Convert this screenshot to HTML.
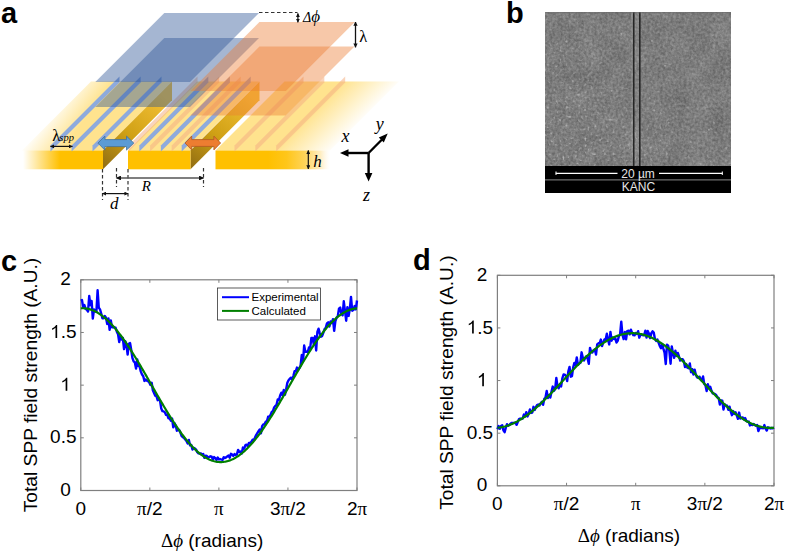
<!DOCTYPE html>
<html><head><meta charset="utf-8"><style>
html,body{margin:0;padding:0;background:#fff;}
body{width:787px;height:551px;overflow:hidden;position:relative;}
svg{position:absolute;left:0;top:0;}
text{font-family:"Liberation Sans",sans-serif;fill:#000;}
.tl{font-size:19px;}
.al{font-size:19px;}
.yl{font-size:19.2px;}
.lg{font-size:11.5px;}
.pl{font-size:29px;font-weight:bold;}
.sem{font-size:12px;fill:#e6e6e6;}
.it{font-family:"Liberation Serif",serif;font-style:italic;}
.sf{font-family:"Liberation Serif",serif;font-style:normal;}
</style></head><body>
<svg width="787" height="551" viewBox="0 0 787 551">
<defs>
<linearGradient id="fadeL" gradientUnits="userSpaceOnUse" x1="22" y1="150.5" x2="47.9" y2="169.6"><stop offset="0" stop-color="#FFE38E" stop-opacity="0.05"/><stop offset="1" stop-color="#FFE38E"/></linearGradient>
<linearGradient id="fadeR" gradientUnits="userSpaceOnUse" x1="274" y1="0" x2="334" y2="0"><stop offset="0" stop-color="#FFE38E"/><stop offset="1" stop-color="#FFE38E" stop-opacity="0"/></linearGradient>
<linearGradient id="ffL" gradientUnits="userSpaceOnUse" x1="23" y1="0" x2="60" y2="0"><stop offset="0" stop-color="#FFC000" stop-opacity="0"/><stop offset="1" stop-color="#FFC000"/></linearGradient>
<linearGradient id="ffR" gradientUnits="userSpaceOnUse" x1="268" y1="0" x2="330" y2="0"><stop offset="0" stop-color="#FFC000"/><stop offset="0.3" stop-color="#FFC61A"/><stop offset="0.6" stop-color="#FFD45A"/><stop offset="0.85" stop-color="#FFEBB8" stop-opacity="0.85"/><stop offset="1" stop-color="#FFF6E0" stop-opacity="0"/></linearGradient>
<linearGradient id="wall" x1="0" y1="1" x2="0.6" y2="0"><stop offset="0" stop-color="#8F6C12"/><stop offset="0.45" stop-color="#CFA015"/><stop offset="1" stop-color="#F4C035"/></linearGradient>
<marker id="ah" viewBox="0 0 10 10" refX="9" refY="5" markerWidth="3.3" markerHeight="3.3" orient="auto-start-reverse"><path d="M0,0 L10,5 L0,10 z" fill="#111"/></marker>
</defs>
<g transform="matrix(1,0,-1,1,150.5,0)">
<rect x="128" y="81.5" width="62" height="69" fill="#FFE38E"/>
<rect x="215.5" y="81.5" width="114.5" height="69" fill="url(#fadeR)"/>
</g>
<polygon points="22,150.5 103,150.5 172,81.5 91,81.5" fill="url(#fadeL)"/>
<polygon points="103,150.5 172,81.5 172,100.30000000000001 103,169.3" fill="url(#wall)"/>
<polygon points="190.5,150.5 259.5,81.5 259.5,100.30000000000001 190.5,169.3" fill="url(#wall)"/>
<rect x="21" y="150.5" width="82" height="18.80000000000001" fill="url(#ffL)"/>
<rect x="128" y="150.5" width="62.5" height="18.80000000000001" fill="#FFC000"/>
<rect x="215.5" y="150.5" width="114.5" height="18.80000000000001" fill="url(#ffR)"/>
<polygon points="50.5,151.5 50.5,145.5 119.5,76.5 119.5,82.5" fill="#88A7E0" fill-opacity="0.95"/>
<polygon points="71.6,151.5 71.6,145.5 140.6,76.5 140.6,82.5" fill="#88A7E0" fill-opacity="0.95"/>
<polygon points="92.5,151.5 92.5,145.5 161.5,76.5 161.5,82.5" fill="#88A7E0" fill-opacity="0.95"/>
<polygon points="139.3,151.5 139.3,145.5 208.3,76.5 208.3,82.5" fill="#88A7E0" fill-opacity="0.95"/>
<polygon points="160.9,151.5 160.9,145.5 229.9,76.5 229.9,82.5" fill="#88A7E0" fill-opacity="0.95"/>
<polygon points="181.7,151.5 181.7,145.5 250.7,76.5 250.7,82.5" fill="#88A7E0" fill-opacity="0.95"/>
<polygon points="128.5,151.5 128.5,145.5 197.5,76.5 197.5,82.5" fill="#F4B183" fill-opacity="0.55"/>
<polygon points="150.1,151.5 150.1,145.5 219.1,76.5 219.1,82.5" fill="#F4B183" fill-opacity="0.55"/>
<polygon points="171.7,151.5 171.7,145.5 240.7,76.5 240.7,82.5" fill="#F4B183" fill-opacity="0.55"/>
<polygon points="234.5,151.5 234.5,145.5 303.5,76.5 303.5,82.5" fill="#F4B183" fill-opacity="0.55"/>
<polygon points="255.3,151.5 255.3,145.5 324.3,76.5 324.3,82.5" fill="#F4B183" fill-opacity="0.55"/>
<polygon points="276.2,151.5 276.2,145.5 345.2,76.5 345.2,82.5" fill="#F4B183" fill-opacity="0.55"/>
<polygon points="164.3,13 259,13 190,82 95.30000000000001,82" fill="#2F5597" fill-opacity="0.43"/>
<polygon points="164.3,38 259,38 190,107 95.30000000000001,107" fill="#2F5597" fill-opacity="0.43"/>
<polygon points="259.4,22 354.8,22 285.8,91 190.39999999999998,91" fill="#ED7D31" fill-opacity="0.42"/>
<polygon points="259.4,46.5 354.5,46.5 285.5,115.5 190.39999999999998,115.5" fill="#ED7D31" fill-opacity="0.42"/>
<polygon points="97.9,143.1 104.9,136.1 104.9,139.6 126.5,139.6 126.5,136.1 133.8,143.1 126.5,150.1 126.5,146.6 104.9,146.6 104.9,150.1" fill="#5B9BD5" stroke="#41719C" stroke-width="0.8"/>
<polygon points="185.0,143.0 191.7,136.1 191.7,139.6 213.9,139.6 213.9,136.1 220.6,143.0 213.9,149.9 213.9,146.4 191.7,146.4 191.7,149.9" fill="#ED7D31" stroke="#AE5A21" stroke-width="0.8"/>
<line x1="259" y1="12.5" x2="297.5" y2="12.5" stroke="#333" stroke-width="1.2" stroke-dasharray="3.5,2.5" fill="none"/>
<line x1="102.5" y1="169" x2="102.5" y2="200" stroke="#333" stroke-width="1.2" stroke-dasharray="3.5,2.5" fill="none"/>
<line x1="116.5" y1="168" x2="116.5" y2="187" stroke="#333" stroke-width="1.2" stroke-dasharray="3.5,2.5" fill="none"/>
<line x1="128" y1="169" x2="128" y2="200" stroke="#333" stroke-width="1.2" stroke-dasharray="3.5,2.5" fill="none"/>
<line x1="203.5" y1="168" x2="203.5" y2="187" stroke="#333" stroke-width="1.2" stroke-dasharray="3.5,2.5" fill="none"/>
<line x1="116.5" y1="178" x2="203.5" y2="178" stroke="#555" stroke-width="1.5" marker-start="url(#ah)" marker-end="url(#ah)"/>
<line x1="102.5" y1="193.6" x2="128" y2="193.6" stroke="#111" stroke-width="1.2" marker-start="url(#ah)" marker-end="url(#ah)"/>
<line x1="50.5" y1="146.4" x2="72.4" y2="146.4" stroke="#111" stroke-width="1.2" marker-start="url(#ah)" marker-end="url(#ah)"/>
<line x1="297.9" y1="13.5" x2="297.9" y2="22.3" stroke="#111" stroke-width="1.2" marker-start="url(#ah)" marker-end="url(#ah)"/>
<line x1="355.5" y1="22" x2="355.5" y2="47.3" stroke="#111" stroke-width="1.3" marker-start="url(#ah)" marker-end="url(#ah)"/>
<line x1="308.3" y1="150.4" x2="308.3" y2="168.9" stroke="#111" stroke-width="1.2" marker-start="url(#ah)" marker-end="url(#ah)"/>
<line x1="368.6" y1="153" x2="346" y2="153" stroke="#000" stroke-width="2.4" fill="none"/><polygon points="340,153 348.5,149.2 348.5,156.8" fill="#000"/>
<line x1="368.6" y1="153" x2="368.6" y2="175" stroke="#000" stroke-width="2.4" fill="none"/><polygon points="368.6,181.6 364.8,173 372.40000000000003,173" fill="#000"/>
<line x1="368.6" y1="153" x2="383.5" y2="138" stroke="#000" stroke-width="2.4" fill="none"/><polygon points="387.7,133.6 378.8,137.6 383.8,142.6" fill="#000"/>
<text x="341.5" y="141.5" font-size="18" class="it" fill="#111">x</text>
<text x="375.8" y="129.5" font-size="18" class="it" fill="#111">y</text>
<text x="363" y="200.5" font-size="18" class="it" fill="#111">z</text>
<text x="313.3" y="166.5" font-size="17" class="it" fill="#111">h</text>
<text x="141.8" y="191.1" font-size="15" class="it" fill="#111">R</text>
<text x="110" y="208.7" font-size="17" class="it" fill="#111">d</text>
<text x="359.3" y="42.3" font-size="16.5" class="it" fill="#111"><tspan class="sf">λ</tspan></text>
<text x="303" y="22" font-size="17" class="it" fill="#111"><tspan font-size="14">Δ</tspan>ϕ</text>
<text x="52.3" y="140.6" font-size="16.5" class="sf" fill="#111">λ</text>
<text x="59.3" y="140.8" font-size="10.5" class="it" fill="#111">spp</text>
<rect x="80.8" y="279.8" width="276.2" height="210.7" fill="none" stroke="#7f7f7f" stroke-width="1.2"/>
<line x1="80.8" y1="490.5" x2="80.8" y2="487.5" stroke="#7f7f7f" stroke-width="1"/>
<line x1="80.8" y1="279.8" x2="80.8" y2="282.8" stroke="#7f7f7f" stroke-width="1"/>
<line x1="149.85" y1="490.5" x2="149.85" y2="487.5" stroke="#7f7f7f" stroke-width="1"/>
<line x1="149.85" y1="279.8" x2="149.85" y2="282.8" stroke="#7f7f7f" stroke-width="1"/>
<line x1="218.89999999999998" y1="490.5" x2="218.89999999999998" y2="487.5" stroke="#7f7f7f" stroke-width="1"/>
<line x1="218.89999999999998" y1="279.8" x2="218.89999999999998" y2="282.8" stroke="#7f7f7f" stroke-width="1"/>
<line x1="287.95" y1="490.5" x2="287.95" y2="487.5" stroke="#7f7f7f" stroke-width="1"/>
<line x1="287.95" y1="279.8" x2="287.95" y2="282.8" stroke="#7f7f7f" stroke-width="1"/>
<line x1="357.0" y1="490.5" x2="357.0" y2="487.5" stroke="#7f7f7f" stroke-width="1"/>
<line x1="357.0" y1="279.8" x2="357.0" y2="282.8" stroke="#7f7f7f" stroke-width="1"/>
<line x1="80.8" y1="490.5" x2="83.8" y2="490.5" stroke="#7f7f7f" stroke-width="1"/>
<line x1="357" y1="490.5" x2="354" y2="490.5" stroke="#7f7f7f" stroke-width="1"/>
<line x1="80.8" y1="437.825" x2="83.8" y2="437.825" stroke="#7f7f7f" stroke-width="1"/>
<line x1="357" y1="437.825" x2="354" y2="437.825" stroke="#7f7f7f" stroke-width="1"/>
<line x1="80.8" y1="385.15" x2="83.8" y2="385.15" stroke="#7f7f7f" stroke-width="1"/>
<line x1="357" y1="385.15" x2="354" y2="385.15" stroke="#7f7f7f" stroke-width="1"/>
<line x1="80.8" y1="332.475" x2="83.8" y2="332.475" stroke="#7f7f7f" stroke-width="1"/>
<line x1="357" y1="332.475" x2="354" y2="332.475" stroke="#7f7f7f" stroke-width="1"/>
<line x1="80.8" y1="279.8" x2="83.8" y2="279.8" stroke="#7f7f7f" stroke-width="1"/>
<line x1="357" y1="279.8" x2="354" y2="279.8" stroke="#7f7f7f" stroke-width="1"/>
<polyline points="80.80,300.72 82.00,300.08 83.20,307.37 84.40,305.12 85.60,308.75 86.80,309.70 88.01,311.55 89.21,296.00 90.41,305.18 91.61,300.90 92.81,318.63 94.01,309.43 95.21,311.45 96.41,311.32 97.61,290.26 98.81,307.77 100.01,309.41 101.21,313.49 102.42,318.22 103.62,318.23 104.82,316.06 106.02,317.68 107.22,324.02 108.42,318.43 109.62,329.86 110.82,320.45 112.02,327.35 113.22,327.41 114.42,327.51 115.63,327.74 116.83,331.68 118.03,334.16 119.23,342.10 120.43,336.31 121.63,339.46 122.83,337.85 124.03,349.17 125.23,341.14 126.43,344.30 127.63,354.58 128.83,343.77 130.04,343.06 131.24,350.05 132.44,358.13 133.64,361.29 134.84,362.42 136.04,368.59 137.24,359.49 138.44,366.12 139.64,366.38 140.84,371.64 142.04,374.50 143.25,376.19 144.45,380.92 145.65,379.50 146.85,380.75 148.05,381.22 149.25,382.54 150.45,384.88 151.65,382.71 152.85,390.31 154.05,392.98 155.25,395.71 156.45,396.10 157.66,400.17 158.86,399.27 160.06,400.73 161.26,408.61 162.46,411.16 163.66,411.38 164.86,412.32 166.06,414.88 167.26,414.87 168.46,418.40 169.66,418.27 170.87,420.68 172.07,418.46 173.27,427.37 174.47,423.17 175.67,425.47 176.87,430.74 178.07,429.62 179.27,430.16 180.47,432.81 181.67,436.14 182.87,437.19 184.07,437.89 185.28,439.45 186.48,440.94 187.68,443.43 188.88,439.96 190.08,445.40 191.28,444.98 192.48,449.52 193.68,447.91 194.88,448.51 196.08,449.54 197.28,452.15 198.49,453.28 199.69,453.52 200.89,453.40 202.09,454.67 203.29,454.05 204.49,457.83 205.69,455.80 206.89,456.02 208.09,457.26 209.29,456.83 210.49,456.29 211.69,456.69 212.90,459.46 214.10,457.09 215.30,458.09 216.50,459.86 217.70,457.47 218.90,459.45 220.10,459.02 221.30,459.50 222.50,460.00 223.70,457.22 224.90,458.09 226.11,457.36 227.31,456.27 228.51,455.61 229.71,457.74 230.91,453.81 232.11,454.50 233.31,455.90 234.51,454.09 235.71,455.00 236.91,454.22 238.11,449.93 239.31,452.02 240.52,451.54 241.72,453.39 242.92,447.59 244.12,448.77 245.32,445.37 246.52,444.64 247.72,446.06 248.92,442.92 250.12,443.07 251.32,441.77 252.52,439.76 253.73,440.11 254.93,437.80 256.13,435.05 257.33,433.16 258.53,431.23 259.73,429.49 260.93,433.32 262.13,426.18 263.33,424.34 264.53,424.13 265.73,421.71 266.93,421.26 268.14,416.75 269.34,416.46 270.54,414.99 271.74,411.86 272.94,411.01 274.14,407.46 275.34,405.87 276.54,404.87 277.74,399.39 278.94,400.04 280.14,395.55 281.35,392.70 282.55,395.16 283.75,389.98 284.95,394.75 286.15,389.28 287.35,382.71 288.55,380.22 289.75,378.89 290.95,377.67 292.15,379.39 293.35,376.12 294.55,371.25 295.76,371.41 296.96,367.59 298.16,369.68 299.36,368.12 300.56,365.69 301.76,355.08 302.96,361.95 304.16,345.54 305.36,351.88 306.56,351.68 307.76,352.15 308.97,347.53 310.17,348.44 311.37,337.88 312.57,338.06 313.77,344.28 314.97,336.33 316.17,350.48 317.37,331.99 318.57,328.75 319.77,333.10 320.97,336.67 322.17,335.89 323.38,332.57 324.58,329.17 325.78,327.86 326.98,323.31 328.18,322.31 329.38,326.52 330.58,321.43 331.78,323.02 332.98,319.14 334.18,330.80 335.38,321.12 336.59,317.60 337.79,316.28 338.99,308.62 340.19,307.54 341.39,313.91 342.59,315.34 343.79,301.30 344.99,311.13 346.19,320.69 347.39,307.19 348.59,315.92 349.79,309.25 351.00,296.95 352.20,310.69 353.40,310.03 354.60,306.09 355.80,309.41 357.00,300.50" fill="none" stroke="#0000ff" stroke-width="2.4" stroke-linejoin="round"/>
<polyline points="80.80,308.31 81.72,308.26 82.64,308.24 83.56,308.26 84.48,308.32 85.40,308.41 86.32,308.53 87.24,308.68 88.17,308.87 89.09,309.09 90.01,309.35 90.93,309.63 91.85,309.96 92.77,310.31 93.69,310.70 94.61,311.12 95.53,311.57 96.45,312.05 97.37,312.57 98.29,313.12 99.21,313.70 100.13,314.31 101.05,314.95 101.98,315.63 102.90,316.33 103.82,317.06 104.74,317.83 105.66,318.62 106.58,319.44 107.50,320.29 108.42,321.17 109.34,322.08 110.26,323.02 111.18,323.98 112.10,324.97 113.02,325.99 113.94,327.03 114.86,328.10 115.79,329.19 116.71,330.30 117.63,331.45 118.55,332.61 119.47,333.80 120.39,335.01 121.31,336.24 122.23,337.49 123.15,338.77 124.07,340.06 124.99,341.38 125.91,342.71 126.83,344.06 127.75,345.44 128.67,346.82 129.60,348.23 130.52,349.65 131.44,351.09 132.36,352.54 133.28,354.00 134.20,355.48 135.12,356.97 136.04,358.48 136.96,360.00 137.88,361.52 138.80,363.06 139.72,364.61 140.64,366.17 141.56,367.73 142.48,369.30 143.41,370.88 144.33,372.47 145.25,374.06 146.17,375.66 147.09,377.26 148.01,378.86 148.93,380.47 149.85,382.07 150.77,383.68 151.69,385.30 152.61,386.91 153.53,388.52 154.45,390.12 155.37,391.73 156.29,393.33 157.22,394.93 158.14,396.53 159.06,398.12 159.98,399.70 160.90,401.28 161.82,402.85 162.74,404.42 163.66,405.97 164.58,407.52 165.50,409.05 166.42,410.58 167.34,412.09 168.26,413.60 169.18,415.09 170.10,416.56 171.03,418.03 171.95,419.47 172.87,420.91 173.79,422.33 174.71,423.73 175.63,425.11 176.55,426.48 177.47,427.83 178.39,429.16 179.31,430.47 180.23,431.76 181.15,433.03 182.07,434.28 182.99,435.51 183.91,436.72 184.84,437.90 185.76,439.06 186.68,440.20 187.60,441.31 188.52,442.40 189.44,443.46 190.36,444.50 191.28,445.51 192.20,446.50 193.12,447.45 194.04,448.38 194.96,449.29 195.88,450.16 196.80,451.01 197.72,451.82 198.65,452.61 199.57,453.37 200.49,454.10 201.41,454.80 202.33,455.47 203.25,456.10 204.17,456.71 205.09,457.28 206.01,457.83 206.93,458.34 207.85,458.81 208.77,459.26 209.69,459.68 210.61,460.06 211.53,460.40 212.46,460.72 213.38,461.00 214.30,461.25 215.22,461.47 216.14,461.65 217.06,461.80 217.98,461.91 218.90,461.99 219.82,462.04 220.74,462.06 221.66,462.04 222.58,461.98 223.50,461.89 224.42,461.77 225.34,461.62 226.27,461.43 227.19,461.21 228.11,460.95 229.03,460.67 229.95,460.34 230.87,459.99 231.79,459.60 232.71,459.18 233.63,458.73 234.55,458.25 235.47,457.73 236.39,457.18 237.31,456.60 238.23,455.99 239.15,455.35 240.08,454.67 241.00,453.97 241.92,453.24 242.84,452.47 243.76,451.68 244.68,450.86 245.60,450.01 246.52,449.13 247.44,448.22 248.36,447.28 249.28,446.32 250.20,445.33 251.12,444.31 252.04,443.27 252.96,442.20 253.89,441.11 254.81,440.00 255.73,438.85 256.65,437.69 257.57,436.50 258.49,435.29 259.41,434.06 260.33,432.81 261.25,431.53 262.17,430.24 263.09,428.92 264.01,427.59 264.93,426.24 265.85,424.86 266.77,423.48 267.70,422.07 268.62,420.65 269.54,419.21 270.46,417.76 271.38,416.30 272.30,414.82 273.22,413.33 274.14,411.82 275.06,410.30 275.98,408.78 276.90,407.24 277.82,405.69 278.74,404.13 279.66,402.57 280.58,401.00 281.51,399.42 282.43,397.83 283.35,396.24 284.27,394.64 285.19,393.04 286.11,391.44 287.03,389.83 287.95,388.23 288.87,386.62 289.79,385.00 290.71,383.39 291.63,381.78 292.55,380.18 293.47,378.57 294.39,376.97 295.32,375.37 296.24,373.77 297.16,372.18 298.08,370.60 299.00,369.02 299.92,367.45 300.84,365.88 301.76,364.33 302.68,362.78 303.60,361.25 304.52,359.72 305.44,358.21 306.36,356.70 307.28,355.21 308.20,353.74 309.13,352.27 310.05,350.83 310.97,349.39 311.89,347.97 312.81,346.57 313.73,345.19 314.65,343.82 315.57,342.47 316.49,341.14 317.41,339.83 318.33,338.54 319.25,337.27 320.17,336.02 321.09,334.79 322.01,333.58 322.94,332.40 323.86,331.24 324.78,330.10 325.70,328.99 326.62,327.90 327.54,326.84 328.46,325.80 329.38,324.79 330.30,323.80 331.22,322.85 332.14,321.92 333.06,321.01 333.98,320.14 334.90,319.29 335.82,318.48 336.75,317.69 337.67,316.93 338.59,316.20 339.51,315.50 340.43,314.83 341.35,314.20 342.27,313.59 343.19,313.02 344.11,312.47 345.03,311.96 345.95,311.49 346.87,311.04 347.79,310.62 348.71,310.24 349.63,309.90 350.56,309.58 351.48,309.30 352.40,309.05 353.32,308.83 354.24,308.65 355.16,308.50 356.08,308.39 357.00,308.31" fill="none" stroke="#007f00" stroke-width="2.2"/>
<text x="60.22" y="496.1" class="tl">0</text>
<text x="50.09" y="443.425" class="tl">0</text>
<text x="60.66" y="443.425" class="tl">.</text>
<text x="65.94" y="443.425" class="tl">5</text>
<path d="M65.63,390.75 L67.30,390.75 L67.30,377.68 L66.21,377.68 C65.41,379.16 63.93,380.32 62.29,380.99 L62.29,382.57 C63.37,382.15 64.67,381.39 65.63,380.52 Z" fill="#000"/>
<path d="M55.50,338.08 L57.17,338.08 L57.17,325.00 L56.09,325.00 C55.29,326.48 53.81,327.64 52.16,328.31 L52.16,329.89 C53.25,329.47 54.55,328.71 55.50,327.85 Z" fill="#000"/>
<text x="60.66" y="338.07500000000005" class="tl">.</text>
<text x="65.94" y="338.07500000000005" class="tl">5</text>
<text x="60.22" y="285.40000000000003" class="tl">2</text>
<text x="80.8" y="514.5" text-anchor="middle" class="tl">0</text>
<text x="149.85" y="514.5" text-anchor="middle" class="tl"><tspan class="sf">π</tspan>/2</text>
<text x="218.89999999999998" y="514.5" text-anchor="middle" class="tl"><tspan class="sf">π</tspan></text>
<text x="287.95" y="514.5" text-anchor="middle" class="tl">3<tspan class="sf">π</tspan>/2</text>
<text x="357.0" y="514.5" text-anchor="middle" class="tl">2<tspan class="sf">π</tspan></text>
<text x="212.1" y="546.5" text-anchor="middle" class="al"><tspan class="sf">Δ</tspan><tspan class="it">ϕ</tspan> (radians)</text>
<text transform="translate(36.8,385.0) rotate(-90)" x="0" y="0" text-anchor="middle" class="yl">Total SPP field strength (A.U.)</text>
<rect x="497.4" y="275.3" width="276.6" height="210.5" fill="none" stroke="#7f7f7f" stroke-width="1.2"/>
<line x1="497.4" y1="485.8" x2="497.4" y2="482.8" stroke="#7f7f7f" stroke-width="1"/>
<line x1="497.4" y1="275.3" x2="497.4" y2="278.3" stroke="#7f7f7f" stroke-width="1"/>
<line x1="566.55" y1="485.8" x2="566.55" y2="482.8" stroke="#7f7f7f" stroke-width="1"/>
<line x1="566.55" y1="275.3" x2="566.55" y2="278.3" stroke="#7f7f7f" stroke-width="1"/>
<line x1="635.7" y1="485.8" x2="635.7" y2="482.8" stroke="#7f7f7f" stroke-width="1"/>
<line x1="635.7" y1="275.3" x2="635.7" y2="278.3" stroke="#7f7f7f" stroke-width="1"/>
<line x1="704.85" y1="485.8" x2="704.85" y2="482.8" stroke="#7f7f7f" stroke-width="1"/>
<line x1="704.85" y1="275.3" x2="704.85" y2="278.3" stroke="#7f7f7f" stroke-width="1"/>
<line x1="774.0" y1="485.8" x2="774.0" y2="482.8" stroke="#7f7f7f" stroke-width="1"/>
<line x1="774.0" y1="275.3" x2="774.0" y2="278.3" stroke="#7f7f7f" stroke-width="1"/>
<line x1="497.4" y1="485.8" x2="500.4" y2="485.8" stroke="#7f7f7f" stroke-width="1"/>
<line x1="774" y1="485.8" x2="771" y2="485.8" stroke="#7f7f7f" stroke-width="1"/>
<line x1="497.4" y1="433.175" x2="500.4" y2="433.175" stroke="#7f7f7f" stroke-width="1"/>
<line x1="774" y1="433.175" x2="771" y2="433.175" stroke="#7f7f7f" stroke-width="1"/>
<line x1="497.4" y1="380.55" x2="500.4" y2="380.55" stroke="#7f7f7f" stroke-width="1"/>
<line x1="774" y1="380.55" x2="771" y2="380.55" stroke="#7f7f7f" stroke-width="1"/>
<line x1="497.4" y1="327.925" x2="500.4" y2="327.925" stroke="#7f7f7f" stroke-width="1"/>
<line x1="774" y1="327.925" x2="771" y2="327.925" stroke="#7f7f7f" stroke-width="1"/>
<line x1="497.4" y1="275.3" x2="500.4" y2="275.3" stroke="#7f7f7f" stroke-width="1"/>
<line x1="774" y1="275.3" x2="771" y2="275.3" stroke="#7f7f7f" stroke-width="1"/>
<polyline points="497.40,429.29 498.60,426.05 499.81,428.82 501.01,425.93 502.21,425.20 503.41,430.33 504.62,432.13 505.82,427.57 507.02,424.19 508.22,425.69 509.43,425.00 510.63,423.46 511.83,422.86 513.03,422.84 514.24,423.03 515.44,422.48 516.64,424.83 517.84,421.80 519.05,419.09 520.25,418.54 521.45,418.95 522.65,418.68 523.86,414.55 525.06,416.45 526.26,412.16 527.47,416.43 528.67,414.02 529.87,409.53 531.07,412.91 532.28,412.50 533.48,406.84 534.68,409.96 535.88,407.19 537.09,405.05 538.29,404.45 539.49,405.39 540.69,403.34 541.90,401.86 543.10,404.77 544.30,398.74 545.50,397.57 546.71,390.97 547.91,397.96 549.11,394.93 550.31,397.55 551.52,391.55 552.72,386.59 553.92,390.94 555.13,389.17 556.33,377.96 557.53,386.77 558.73,388.23 559.94,384.33 561.14,386.41 562.34,378.41 563.54,374.51 564.75,374.69 565.95,375.77 567.15,381.02 568.35,371.29 569.56,366.90 570.76,376.69 571.96,376.20 573.16,367.59 574.37,362.92 575.57,364.79 576.77,357.43 577.97,364.85 579.18,363.65 580.38,362.78 581.58,352.32 582.79,357.54 583.99,360.56 585.19,358.00 586.39,356.24 587.60,358.53 588.80,363.82 590.00,347.96 591.20,351.83 592.41,352.42 593.61,350.22 594.81,349.53 596.01,354.58 597.22,344.43 598.42,343.30 599.62,343.35 600.82,339.55 602.03,346.06 603.23,342.67 604.43,339.54 605.63,339.73 606.84,333.72 608.04,339.78 609.24,344.46 610.45,331.90 611.65,340.69 612.85,337.57 614.05,339.02 615.26,338.17 616.46,342.53 617.66,340.84 618.86,336.44 620.07,334.67 621.27,321.68 622.47,335.03 623.67,339.06 624.88,331.84 626.08,339.27 627.28,331.04 628.48,330.69 629.69,334.38 630.89,329.64 632.09,332.99 633.29,335.15 634.50,335.39 635.70,333.09 636.90,333.91 638.11,331.19 639.31,337.67 640.51,334.44 641.71,334.78 642.92,335.22 644.12,335.29 645.32,330.78 646.52,337.52 647.73,331.04 648.93,333.61 650.13,338.11 651.33,333.11 652.54,331.30 653.74,332.54 654.94,338.97 656.14,340.93 657.35,339.46 658.55,342.59 659.75,345.92 660.95,348.18 662.16,344.04 663.36,348.59 664.56,352.69 665.77,364.00 666.97,344.60 668.17,345.64 669.37,351.11 670.58,363.76 671.78,346.37 672.98,353.26 674.18,357.84 675.39,350.70 676.59,355.93 677.79,352.98 678.99,356.51 680.20,360.63 681.40,359.11 682.60,359.13 683.80,361.11 685.01,367.11 686.21,364.01 687.41,367.65 688.61,368.28 689.82,363.42 691.02,372.21 692.22,369.18 693.43,374.51 694.63,369.61 695.83,374.84 697.03,377.31 698.24,377.76 699.44,376.66 700.64,378.94 701.84,380.85 703.05,376.50 704.25,383.91 705.45,385.17 706.65,391.04 707.86,384.30 709.06,387.91 710.26,386.74 711.46,390.80 712.67,393.36 713.87,393.71 715.07,394.13 716.27,395.23 717.48,397.37 718.68,398.08 719.88,404.56 721.09,400.56 722.29,400.75 723.49,409.52 724.69,404.36 725.90,405.38 727.10,405.76 728.30,409.77 729.50,406.65 730.71,411.47 731.91,415.22 733.11,411.04 734.31,413.93 735.52,412.21 736.72,415.43 737.92,418.87 739.12,412.57 740.33,418.48 741.53,417.65 742.73,417.37 743.93,419.53 745.14,418.06 746.34,420.94 747.54,421.79 748.75,421.57 749.95,425.40 751.15,424.25 752.35,425.12 753.56,424.01 754.76,424.94 755.96,425.87 757.16,424.99 758.37,431.08 759.57,427.99 760.77,427.86 761.97,427.98 763.18,428.37 764.38,425.11 765.58,428.52 766.78,430.57 767.99,427.29 769.19,427.76 770.39,428.44 771.59,427.97 772.80,428.25 774.00,427.60" fill="none" stroke="#0000ff" stroke-width="2.4" stroke-linejoin="round"/>
<polyline points="497.40,427.76 498.32,427.67 499.24,427.56 500.17,427.43 501.09,427.28 502.01,427.11 502.93,426.91 503.85,426.70 504.78,426.47 505.70,426.22 506.62,425.94 507.54,425.65 508.46,425.34 509.39,425.00 510.31,424.65 511.23,424.28 512.15,423.89 513.07,423.48 514.00,423.05 514.92,422.61 515.84,422.14 516.76,421.66 517.68,421.15 518.61,420.64 519.53,420.10 520.45,419.54 521.37,418.97 522.29,418.38 523.22,417.78 524.14,417.16 525.06,416.52 525.98,415.87 526.90,415.20 527.83,414.51 528.75,413.82 529.67,413.10 530.59,412.37 531.51,411.63 532.44,410.88 533.36,410.11 534.28,409.33 535.20,408.53 536.12,407.73 537.05,406.91 537.97,406.08 538.89,405.24 539.81,404.39 540.73,403.52 541.66,402.65 542.58,401.77 543.50,400.88 544.42,399.98 545.34,399.07 546.27,398.15 547.19,397.23 548.11,396.29 549.03,395.36 549.95,394.41 550.88,393.46 551.80,392.50 552.72,391.54 553.64,390.57 554.56,389.60 555.49,388.62 556.41,387.65 557.33,386.66 558.25,385.68 559.17,384.69 560.10,383.70 561.02,382.71 561.94,381.72 562.86,380.73 563.78,379.74 564.71,378.75 565.63,377.75 566.55,376.77 567.47,375.78 568.39,374.79 569.32,373.81 570.24,372.83 571.16,371.85 572.08,370.88 573.00,369.91 573.93,368.94 574.85,367.99 575.77,367.03 576.69,366.08 577.61,365.14 578.54,364.21 579.46,363.28 580.38,362.36 581.30,361.45 582.22,360.55 583.15,359.65 584.07,358.77 584.99,357.89 585.91,357.02 586.83,356.17 587.76,355.32 588.68,354.49 589.60,353.67 590.52,352.86 591.44,352.06 592.37,351.27 593.29,350.50 594.21,349.74 595.13,348.99 596.05,348.26 596.98,347.54 597.90,346.84 598.82,346.15 599.74,345.47 600.66,344.81 601.59,344.17 602.51,343.54 603.43,342.93 604.35,342.34 605.27,341.76 606.20,341.20 607.12,340.66 608.04,340.13 608.96,339.62 609.88,339.13 610.81,338.66 611.73,338.21 612.65,337.77 613.57,337.36 614.49,336.96 615.42,336.58 616.34,336.22 617.26,335.88 618.18,335.56 619.10,335.26 620.03,334.98 620.95,334.72 621.87,334.48 622.79,334.26 623.71,334.06 624.64,333.88 625.56,333.72 626.48,333.58 627.40,333.47 628.32,333.37 629.25,333.29 630.17,333.24 631.09,333.20 632.01,333.19 632.93,333.19 633.86,333.22 634.78,333.27 635.70,333.34 636.62,333.43 637.54,333.54 638.47,333.67 639.39,333.82 640.31,333.99 641.23,334.19 642.15,334.40 643.08,334.63 644.00,334.88 644.92,335.16 645.84,335.45 646.76,335.76 647.69,336.10 648.61,336.45 649.53,336.82 650.45,337.21 651.37,337.62 652.30,338.05 653.22,338.49 654.14,338.96 655.06,339.44 655.98,339.95 656.91,340.46 657.83,341.00 658.75,341.56 659.67,342.13 660.59,342.72 661.52,343.32 662.44,343.94 663.36,344.58 664.28,345.23 665.20,345.90 666.13,346.59 667.05,347.28 667.97,348.00 668.89,348.73 669.81,349.47 670.74,350.22 671.66,350.99 672.58,351.77 673.50,352.57 674.42,353.37 675.35,354.19 676.27,355.02 677.19,355.86 678.11,356.71 679.03,357.58 679.96,358.45 680.88,359.33 681.80,360.22 682.72,361.12 683.64,362.03 684.57,362.95 685.49,363.87 686.41,364.81 687.33,365.74 688.25,366.69 689.18,367.64 690.10,368.60 691.02,369.56 691.94,370.53 692.86,371.50 693.79,372.48 694.71,373.45 695.63,374.44 696.55,375.42 697.47,376.41 698.40,377.40 699.32,378.39 700.24,379.38 701.16,380.37 702.08,381.36 703.01,382.35 703.93,383.35 704.85,384.33 705.77,385.32 706.69,386.31 707.62,387.29 708.54,388.27 709.46,389.25 710.38,390.22 711.30,391.19 712.23,392.16 713.15,393.11 714.07,394.07 714.99,395.02 715.91,395.96 716.84,396.89 717.76,397.82 718.68,398.74 719.60,399.65 720.52,400.55 721.45,401.45 722.37,402.33 723.29,403.21 724.21,404.08 725.13,404.93 726.06,405.78 726.98,406.61 727.90,407.43 728.82,408.24 729.74,409.04 730.67,409.83 731.59,410.60 732.51,411.36 733.43,412.11 734.35,412.84 735.28,413.56 736.20,414.26 737.12,414.95 738.04,415.63 738.96,416.29 739.89,416.93 740.81,417.56 741.73,418.17 742.65,418.76 743.57,419.34 744.50,419.90 745.42,420.44 746.34,420.97 747.26,421.48 748.18,421.97 749.11,422.44 750.03,422.89 750.95,423.33 751.87,423.74 752.79,424.14 753.72,424.52 754.64,424.88 755.56,425.22 756.48,425.54 757.40,425.84 758.33,426.12 759.25,426.38 760.17,426.62 761.09,426.84 762.01,427.04 762.94,427.22 763.86,427.38 764.78,427.52 765.70,427.63 766.62,427.73 767.55,427.81 768.47,427.86 769.39,427.90 770.31,427.91 771.23,427.91 772.16,427.88 773.08,427.83 774.00,427.76" fill="none" stroke="#007f00" stroke-width="2.2"/>
<text x="476.82" y="491.40000000000003" class="tl">0</text>
<text x="466.69" y="438.77500000000003" class="tl">0</text>
<text x="477.26" y="438.77500000000003" class="tl">.</text>
<text x="482.54" y="438.77500000000003" class="tl">5</text>
<path d="M482.23,386.15 L483.90,386.15 L483.90,373.08 L482.81,373.08 C482.01,374.56 480.53,375.72 478.89,376.39 L478.89,377.97 C479.97,377.55 481.27,376.79 482.23,375.92 Z" fill="#000"/>
<path d="M472.10,333.53 L473.77,333.53 L473.77,320.45 L472.69,320.45 C471.89,321.93 470.41,323.09 468.76,323.76 L468.76,325.34 C469.85,324.92 471.15,324.16 472.10,323.30 Z" fill="#000"/>
<text x="477.26" y="333.52500000000003" class="tl">.</text>
<text x="482.54" y="333.52500000000003" class="tl">5</text>
<text x="476.82" y="280.90000000000003" class="tl">2</text>
<text x="497.4" y="509.8" text-anchor="middle" class="tl">0</text>
<text x="566.55" y="509.8" text-anchor="middle" class="tl"><tspan class="sf">π</tspan>/2</text>
<text x="635.7" y="509.8" text-anchor="middle" class="tl"><tspan class="sf">π</tspan></text>
<text x="704.85" y="509.8" text-anchor="middle" class="tl">3<tspan class="sf">π</tspan>/2</text>
<text x="774.0" y="509.8" text-anchor="middle" class="tl">2<tspan class="sf">π</tspan></text>
<text x="628.9000000000001" y="541.8" text-anchor="middle" class="al"><tspan class="sf">Δ</tspan><tspan class="it">ϕ</tspan> (radians)</text>
<text transform="translate(453.4,382.6) rotate(-90)" x="0" y="0" text-anchor="middle" class="yl">Total SPP field strength (A.U.)</text>
<rect x="217.5" y="288" width="103" height="32" fill="#fff" stroke="#333" stroke-width="0.8"/>
<line x1="222" y1="297.2" x2="249" y2="297.2" stroke="#0000ff" stroke-width="2"/>
<line x1="222" y1="310.9" x2="249" y2="310.9" stroke="#007f00" stroke-width="2"/>
<text x="251.5" y="301" class="lg">Experimental</text>
<text x="251.5" y="315" class="lg">Calculated</text>
<text x="1" y="23" class="pl">a</text>
<text x="506" y="23" class="pl">b</text>
<text x="1" y="271" class="pl">c</text>
<text x="413" y="270" class="pl">d</text>
<defs><filter id="grain" x="0" y="0" width="100%" height="100%" color-interpolation-filters="sRGB"><feTurbulence type="fractalNoise" baseFrequency="0.38" numOctaves="2" seed="3" result="n1"/><feColorMatrix in="n1" type="matrix" values="1 0 0 0 0  1 0 0 0 0  1 0 0 0 0  0 0 0 0 1" result="g1"/><feTurbulence type="fractalNoise" baseFrequency="0.045" numOctaves="3" seed="8" result="n2"/><feColorMatrix in="n2" type="matrix" values="1 0 0 0 0  1 0 0 0 0  1 0 0 0 0  0 0 0 0 1" result="g2"/><feComposite in="g1" in2="g2" operator="arithmetic" k1="0" k2="0.72" k3="0.28" k4="0" result="g"/><feColorMatrix in="g" type="matrix" values="0.34 0 0 0 0.315  0.34 0 0 0 0.315  0.34 0 0 0 0.315  0 0 0 0 1"/></filter></defs>
<rect x="545" y="12.3" width="186" height="153.7" fill="#7b7b7b" filter="url(#grain)"/>
<defs><filter id="speck" x="0" y="0" width="100%" height="100%" color-interpolation-filters="sRGB"><feTurbulence type="fractalNoise" baseFrequency="0.32" numOctaves="1" seed="21" result="t"/><feColorMatrix in="t" type="matrix" values="0 0 0 0 1  0 0 0 0 1  0 0 0 0 1  1 0 0 0 0" result="a"/><feComponentTransfer in="a"><feFuncA type="linear" slope="4.5" intercept="-2.75"/></feComponentTransfer></filter><linearGradient id="spm" x1="0" y1="1" x2="1" y2="0"><stop offset="0" stop-color="#fff" stop-opacity="1"/><stop offset="0.6" stop-color="#fff" stop-opacity="0.35"/><stop offset="1" stop-color="#fff" stop-opacity="0.2"/></linearGradient><mask id="spmask"><rect x="545" y="12.3" width="186" height="153.7" fill="url(#spm)"/></mask></defs>
<g mask="url(#spmask)"><rect x="545" y="12.3" width="186" height="153.7" filter="url(#speck)" opacity="0.6"/></g>
<circle cx="665" cy="65.8" r="1" fill="#c8c8c8" fill-opacity="0.5"/>
<circle cx="621.4" cy="33.8" r="1" fill="#c8c8c8" fill-opacity="0.5"/>
<circle cx="572.8" cy="81" r="1" fill="#c8c8c8" fill-opacity="0.5"/>
<circle cx="611.7" cy="90.8" r="1" fill="#c8c8c8" fill-opacity="0.5"/>
<circle cx="708.9" cy="129.7" r="1" fill="#c8c8c8" fill-opacity="0.5"/>
<circle cx="668.6" cy="122.7" r="1" fill="#c8c8c8" fill-opacity="0.5"/>
<circle cx="652" cy="40.8" r="1" fill="#c8c8c8" fill-opacity="0.5"/>
<circle cx="560" cy="120" r="1" fill="#c8c8c8" fill-opacity="0.5"/>
<circle cx="585" cy="110" r="1" fill="#c8c8c8" fill-opacity="0.5"/>
<circle cx="600" cy="140" r="1" fill="#c8c8c8" fill-opacity="0.5"/>
<rect x="631.4" y="12.3" width="1.5" height="153.7" fill="#fff" fill-opacity="0.15"/>
<rect x="634.5" y="12.3" width="4.5" height="153.7" fill="#fff" fill-opacity="0.07"/>
<rect x="632.9" y="12.3" width="1.6" height="153.7" fill="#262626"/>
<rect x="639.0" y="12.3" width="1.6" height="153.7" fill="#262626"/>
<rect x="545" y="12.3" width="186" height="1" fill="#666" fill-opacity="0.6"/>
<rect x="545" y="166" width="186" height="27" fill="#000"/>
<line x1="545" y1="179.9" x2="731" y2="179.9" stroke="#9a9a9a" stroke-width="0.9"/>
<line x1="555.8" y1="173.3" x2="617.5" y2="173.3" stroke="#fff" stroke-width="1.3"/>
<line x1="659" y1="173.3" x2="722.5" y2="173.3" stroke="#fff" stroke-width="1.3"/>
<line x1="556" y1="171.5" x2="556" y2="175" stroke="#fff" stroke-width="1"/>
<line x1="722.3" y1="171.5" x2="722.3" y2="175" stroke="#fff" stroke-width="1"/>
<text x="638" y="177.5" text-anchor="middle" class="sem">20 µm</text>
<text x="638.5" y="191" text-anchor="middle" class="sem">KANC</text>
</svg>
</body></html>
